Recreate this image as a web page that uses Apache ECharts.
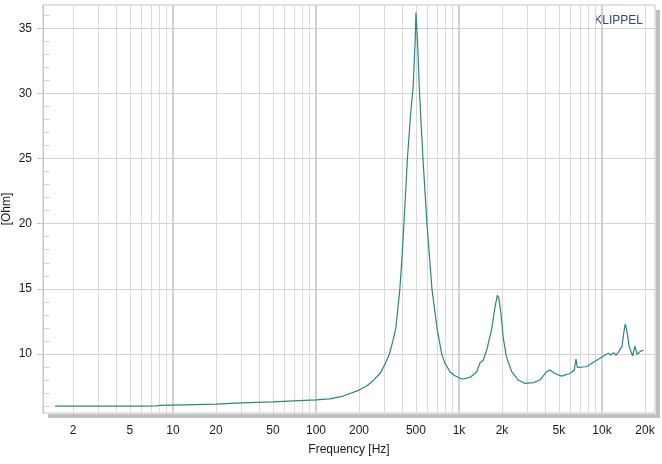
<!DOCTYPE html>
<html><head><meta charset="utf-8">
<script src="https://cdn.jsdelivr.net/npm/echarts@6/dist/echarts.min.js"></script>
<style>html,body{margin:0;padding:0;background:#fff}#c{width:662px;height:464px}</style>
</head><body><div id="c"></div>
<script>
const freqHz = [1.5,3,6,7.7,8,12,20,30,50,70,100,125,155,200,226,251,283,306,326,345,362,386,400,412,436,458,478,494,500,513,530,560,597,647,702,757,798,865,930,1016,1070,1195,1331,1404,1480,1563,1693,1786,1854,1900,1967,2036,2145,2338,2598,2893,3310,3685,4100,4317,4690,5220,5970,6400,6580,6720,7770,8600,9680,10500,11100,11500,12100,12550,13100,13800,14200,14560,15020,15500,16400,17000,17650,18450,19500];
const impedanceOhm = [6.0,6.0,6.0,6.02,6.06,6.1,6.15,6.24,6.33,6.4,6.48,6.56,6.77,7.23,7.54,7.95,8.56,9.28,10.0,11.0,12.0,15.0,17.5,20.0,25.0,28.3,30.5,34.0,36.2,34.0,30.0,25.0,20.0,15.0,12.0,10.0,9.3,8.64,8.35,8.13,8.08,8.2,8.64,9.33,9.54,10.3,11.9,13.6,14.5,14.3,13.1,11.3,9.8,8.64,8.0,7.74,7.8,8.0,8.64,8.77,8.5,8.3,8.5,8.77,9.6,8.97,9.02,9.33,9.67,9.92,10.05,9.92,10.1,9.9,10.18,10.56,11.6,12.3,11.6,10.56,9.85,10.6,9.97,10.18,10.3];
const xLabelTicks = [2,5,10,20,50,100,200,500,1000,2000,5000,10000,20000];
const xGridTicks = [2,3,4,5,6,7,8,9,10,20,30,40,50,60,70,80,90,100,200,300,400,500,600,700,800,900,1000,2000,3000,4000,5000,6000,7000,8000,9000,10000,20000];
const xDecadeTicks = [10,100,1000,10000];
const yLabelTicks = [10,15,20,25,30,35];
const yMinorTicks = [6,7,8,9,11,12,13,14,16,17,18,19,21,22,23,24,26,27,28,29,31,32,33,34,36];

const chart = echarts.init(document.getElementById('c'), null, {renderer: 'canvas'});
const FONT = 'Liberation Sans, Arial, sans-serif';
const X_MIN = 1.233, X_MAX = 23490, Y_MIN = 5.47, Y_MAX = 36.78;
const fmtHz = v => { const r = Math.round(v); return r >= 1000 ? (r / 1000) + 'k' : String(r); };
const gridColors = ['#dadada','#dadada','#dadada','#dadada','#dadada','#dadada','#dadada','#dadada','#cbcbcb'];

chart.setOption({
  animation: false,
  backgroundColor: '#fff',
  grid: {left: 43, right: 7, top: 5, bottom: 51, show: true, borderColor: '#c4c4c4', borderWidth: 1, backgroundColor: '#fff', containLabel: false, outerBoundsMode: 'none'},
  graphic: [
    {type: 'rect', z: -1, shape: {x: 48, y: 414, width: 612, height: 4}, style: {fill: '#c0c0c0'}},
    {type: 'rect', z: -1, shape: {x: 656, y: 10, width: 4, height: 408}, style: {fill: '#c0c0c0'}},
    {type: 'text', right: 19, top: 15, style: {text: 'KLIPPEL', fill: '#33478a', font: '12px ' + FONT}},
    {type: 'text', x: 7, y: 209, rotation: Math.PI / 2,
     style: {text: '[Ohm]', fill: '#1a1a1a', font: '12px ' + FONT, align: 'center', verticalAlign: 'middle'}}
  ],
  xAxis: [
    {
      type: 'log', logBase: 10, min: X_MIN, max: X_MAX,
      name: 'Frequency [Hz]', nameLocation: 'middle', nameGap: 31,
      nameTextStyle: {color: '#1a1a1a', fontSize: 12, fontFamily: FONT},
      axisLine: {show: false},
      axisTick: {show: false, customValues: xGridTicks},
      axisLabel: {customValues: xLabelTicks, formatter: fmtHz, color: '#1a1a1a', fontSize: 12, fontFamily: FONT, margin: 12},
      splitLine: {show: true, lineStyle: {color: gridColors, width: 1}},
      minorSplitLine: {show: false}
    },
    {
      type: 'log', logBase: 10, min: X_MIN, max: X_MAX, position: 'bottom',
      axisLine: {show: false}, axisLabel: {show: false},
      axisTick: {show: false, customValues: xDecadeTicks},
      splitLine: {show: true, lineStyle: {color: '#d0d0d0', width: 2}}
    }
  ],
  yAxis: [
    {
      type: 'value', min: Y_MIN, max: Y_MAX,
      axisLine: {show: true, lineStyle: {color: '#c4c4c4'}},
      axisTick: {show: true, length: 6, customValues: yLabelTicks, lineStyle: {color: '#c4c4c4'}},
      axisLabel: {customValues: yLabelTicks, color: '#1a1a1a', fontSize: 12, fontFamily: FONT, margin: 11},
      splitLine: {show: true, lineStyle: {color: '#d2d2d2'}}
    },
    {
      type: 'value', min: Y_MIN, max: Y_MAX, position: 'left',
      axisLine: {show: false}, axisLabel: {show: false}, splitLine: {show: false},
      axisTick: {show: true, inside: true, length: 7, customValues: yMinorTicks, lineStyle: {color: '#d4d4d4'}}
    }
  ],
  series: [{
    type: 'line', xAxisIndex: 0, yAxisIndex: 0, showSymbol: false, symbol: 'none',
    lineStyle: {color: '#2b8585', width: 1.2},
    data: freqHz.map((f, i) => [f, impedanceOhm[i]]),
    z: 5
  }]
});
</script></body></html>
